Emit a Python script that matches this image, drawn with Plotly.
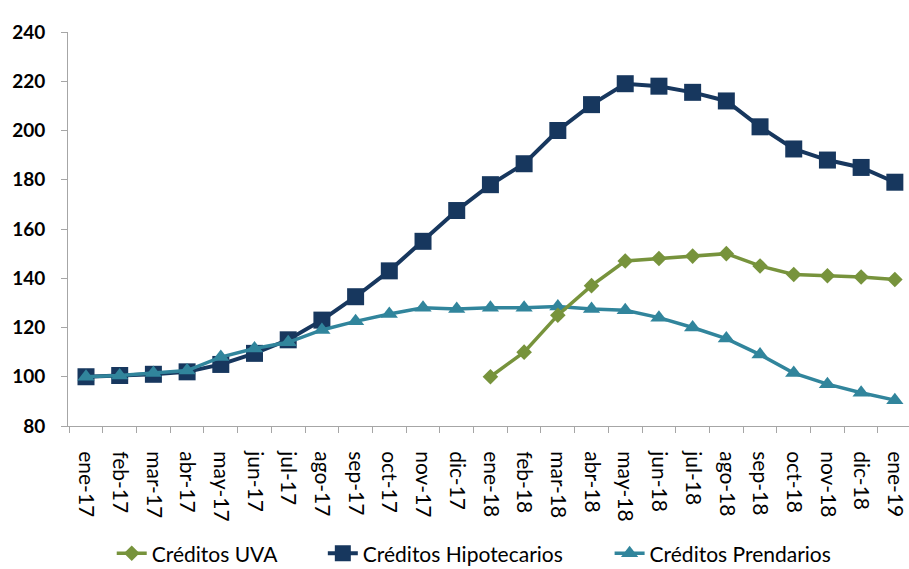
import plotly.graph_objects as go

# Month labels (Jan 2017 - Jan 2019)
meses = ["ene-17", "feb-17", "mar-17", "abr-17", "may-17", "jun-17", "jul-17",
         "ago-17", "sep-17", "oct-17", "nov-17", "dic-17", "ene-18", "feb-18",
         "mar-18", "abr-18", "may-18", "jun-18", "jul-18", "ago-18", "sep-18",
         "oct-18", "nov-18", "dic-18", "ene-19"]

# Index values (base 100)
hipotecarios = [100, 100.5, 101, 102, 105, 109.5, 115, 123, 132.5, 143, 155, 167.5,
                178, 186.5, 200, 210.5, 219, 218, 215.5, 212, 201.5, 192.5, 188, 185, 179]
prendarios = [100, 100.5, 101.5, 102.5, 108, 111.5, 114, 119, 122.5, 125.5, 128, 127.5,
              128, 128, 128.5, 127.5, 127, 124, 120, 115.5, 109, 101.5, 97, 93.5, 90.5]
uva_meses = meses[12:]
uva = [100, 110, 125, 137, 147, 148, 149, 150, 145, 141.5, 141, 140.5, 139.5]

COL_HIP = "#17375E"
COL_PRE = "#31859C"
COL_UVA = "#77933C"
FONT = "Lato"

fig = go.Figure()

fig.add_trace(go.Scatter(
    x=meses, y=hipotecarios, name="Créditos Hipotecarios", mode="lines+markers",
    line=dict(color=COL_HIP, width=4),
    marker=dict(symbol="square", size=17, color=COL_HIP),
    cliponaxis=False, legend="legend2"))

fig.add_trace(go.Scatter(
    x=meses, y=prendarios, name="Créditos Prendarios", mode="lines+markers",
    line=dict(color=COL_PRE, width=3.5),
    marker=dict(symbol="triangle-up", size=15, color=COL_PRE),
    cliponaxis=False, legend="legend3"))

fig.add_trace(go.Scatter(
    x=uva_meses, y=uva, name="Créditos UVA", mode="lines+markers",
    line=dict(color=COL_UVA, width=3.5),
    marker=dict(symbol="diamond", size=12, color=COL_UVA),
    cliponaxis=False, legend="legend"))

leg_common = dict(orientation="h", yanchor="top", y=-0.272, xanchor="left",
                  font=dict(family=FONT, size=21, color="#000000"),
                  bgcolor="rgba(0,0,0,0)")

fig.update_layout(
    width=909, height=569,
    margin=dict(l=68, r=0, t=32, b=143, autoexpand=False),
    paper_bgcolor="white", plot_bgcolor="white",
    showlegend=True,
    font=dict(family=FONT, size=19, color="#000000"),
    legend=dict(leg_common, x=0.052),
    legend2=dict(leg_common, x=0.303),
    legend3=dict(leg_common, x=0.644),
    xaxis=dict(
        type="category", categoryorder="array", categoryarray=meses,
        range=[-0.534, 24.42], tickangle=90, tickson="boundaries",
        ticks="outside", ticklen=6, tickcolor="#A6A6A6",
        showline=True, linecolor="#A6A6A6", linewidth=1,
        showgrid=False, zeroline=False, ticklabelstandoff=20, automargin=False,
        tickfont=dict(family=FONT, size=21, color="#000000"),
    ),
    yaxis=dict(
        range=[80, 240], tickvals=list(range(80, 241, 20)),
        ticks="outside", ticklen=6, tickcolor="#A6A6A6",
        showline=True, linecolor="#A6A6A6", linewidth=1,
        showgrid=False, zeroline=False, ticklabelstandoff=12, automargin=False,
        tickfont=dict(family=FONT, size=19, color="#000000", weight="bold"),
    ),
)

fig.write_html("out.html")
